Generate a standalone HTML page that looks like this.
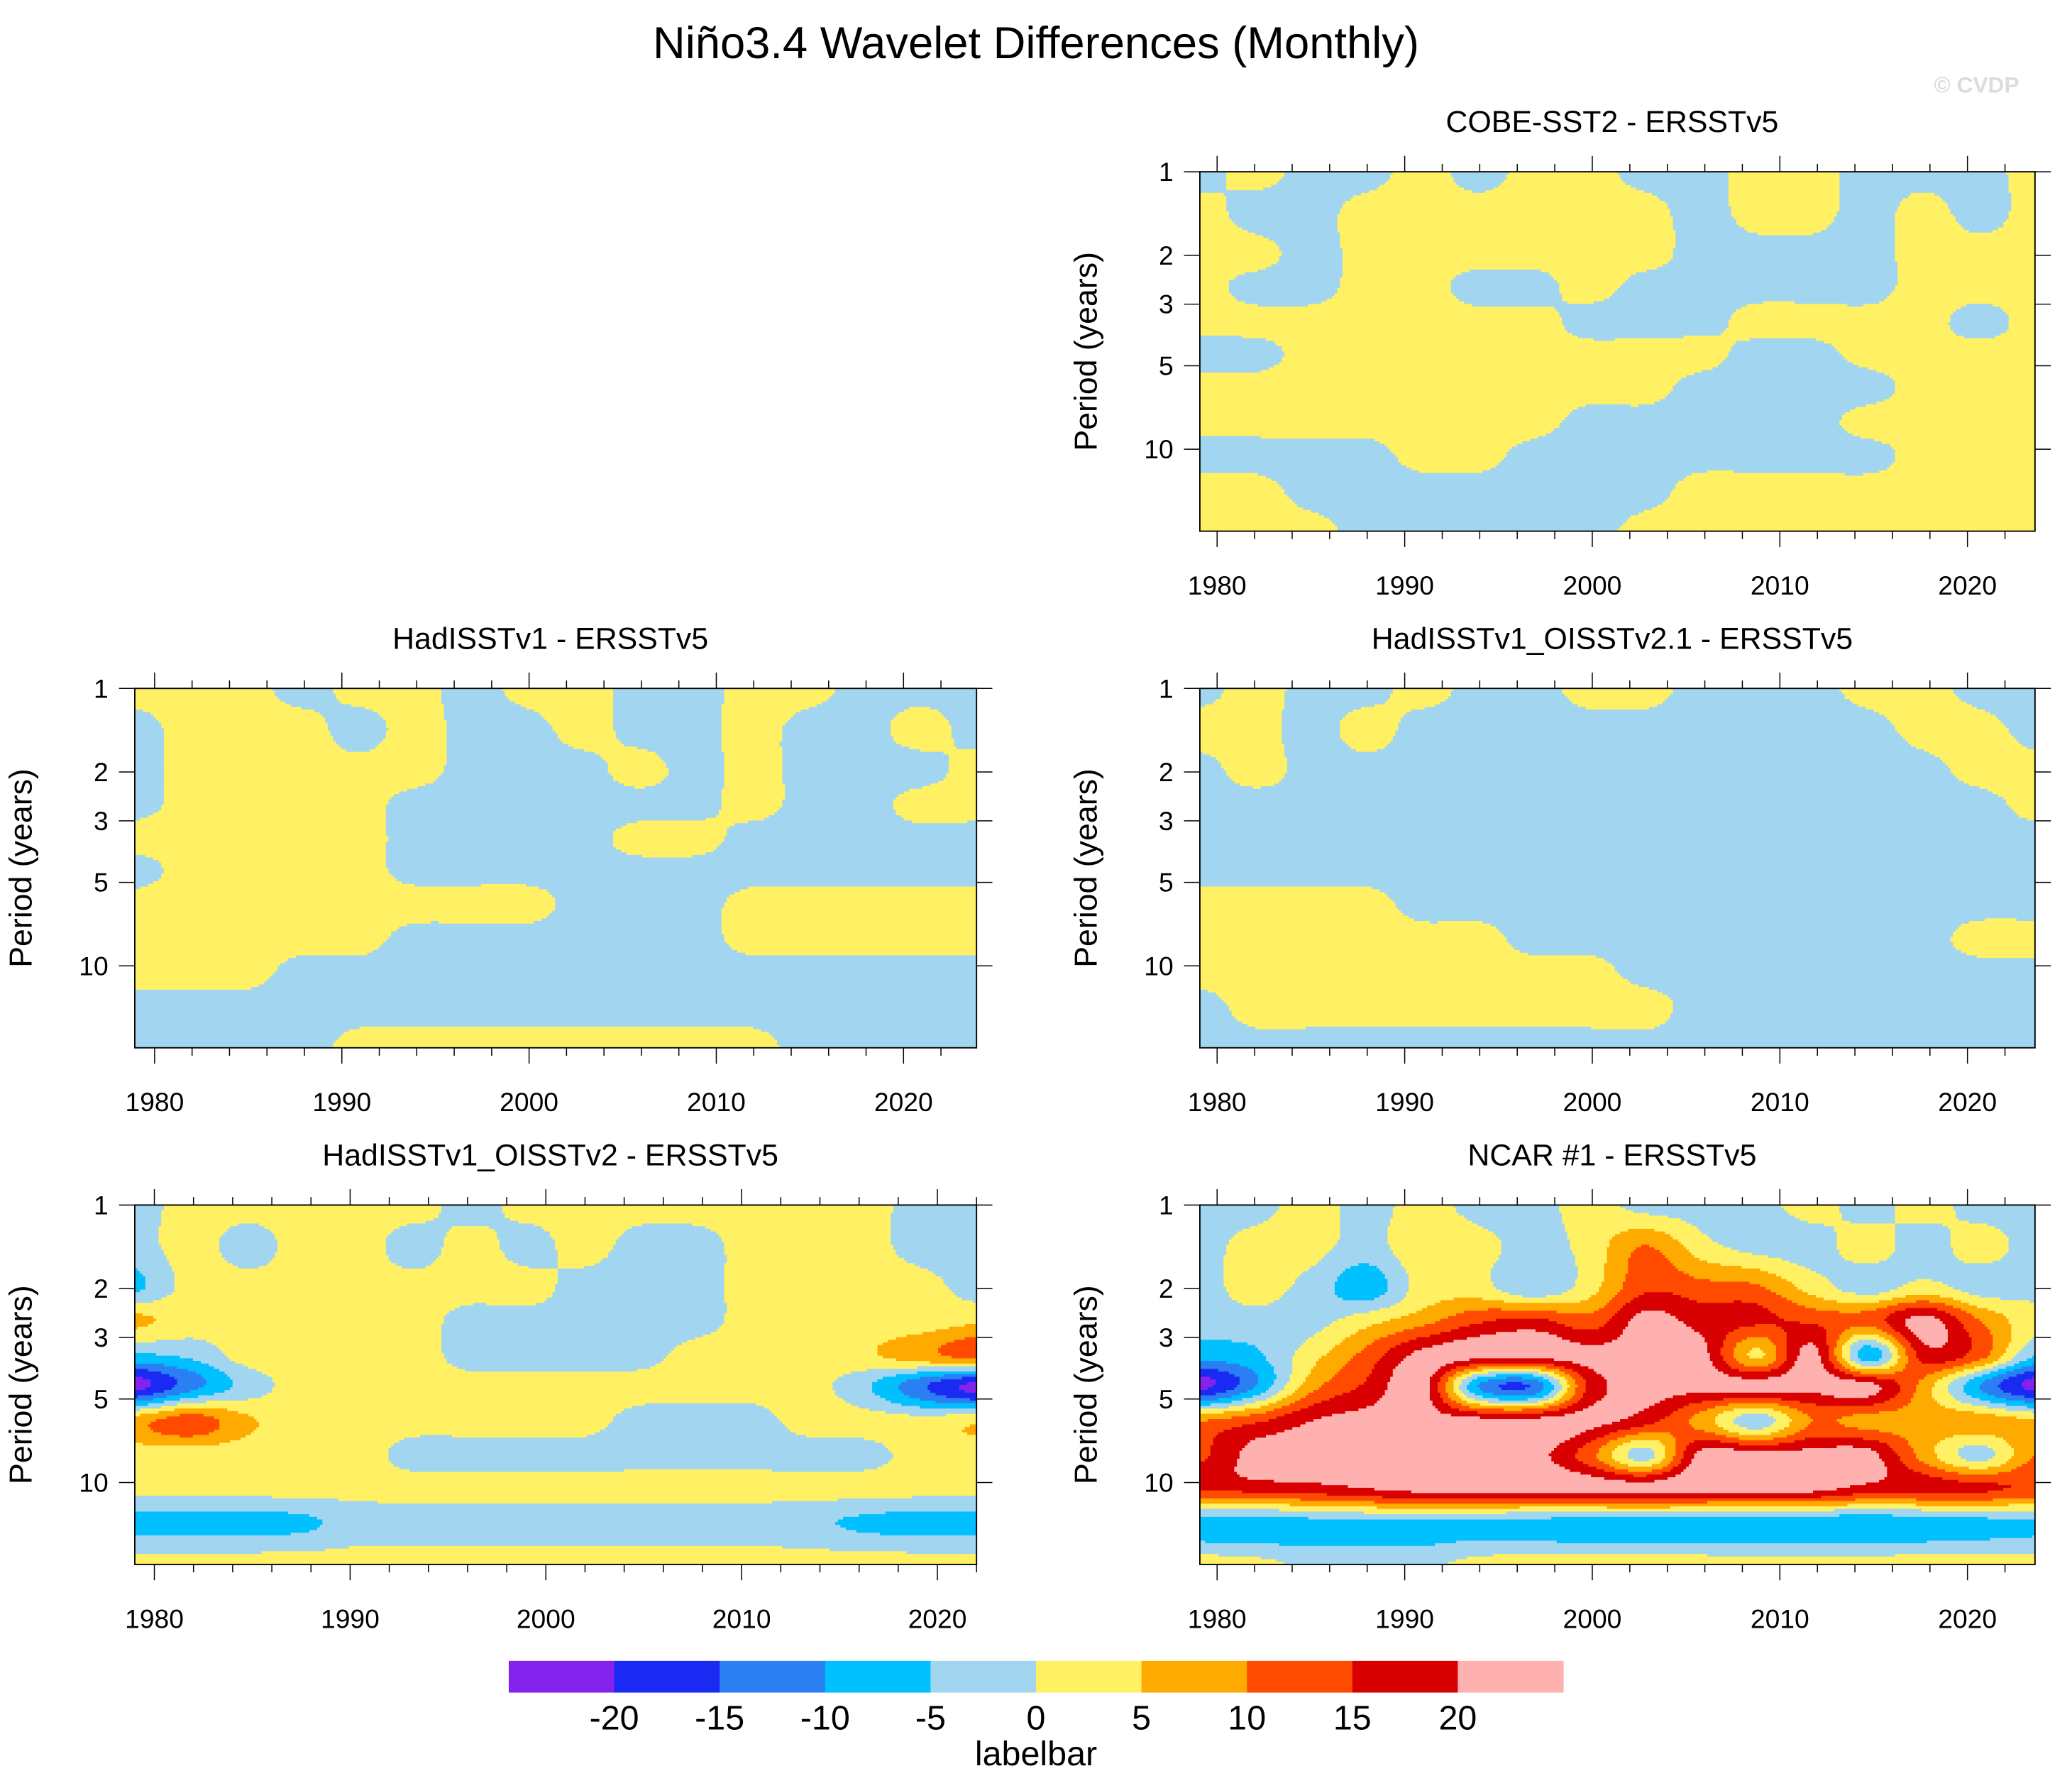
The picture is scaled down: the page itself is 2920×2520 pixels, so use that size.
<!DOCTYPE html>
<html><head><meta charset="utf-8"><title>Niño3.4 Wavelet Differences</title>
<style>html,body{margin:0;padding:0;background:#fff}svg{display:block}text{font-family:"Liberation Sans",sans-serif}</style>
</head><body>
<svg id="chart" width="2920" height="2520" viewBox="0 0 1568 1353.2" xmlns="http://www.w3.org/2000/svg">
<rect width="1568" height="1353.2" fill="#fff"/>
<text x="784" y="44" font-size="34" text-anchor="middle">Niño3.4 Wavelet Differences (Monthly)</text>
<text x="1528" y="70" font-size="17" font-weight="bold" fill="#dcdcdc" text-anchor="end">© CVDP</text>
<g id="panels"></g>
<g id="colorbar"></g>
</svg>
<script>
const levels = [-20,-15,-10,-5,0,5,10,15,20];
const colors = ["#8422ee","#1a2af2","#2a7ff2","#00c0ff","#a2d6f0","#fff064","#ffaa00","#ff4b00","#d80000","#ffb1b0"];
const periods = [1,1.4,2,2.6,3.5,4.5,6,8,10.5,14,20];
const periodTicks = [1,2,3,5,10];
const yearTicks = [1980,1990,2000,2010,2020];

const cobeVals = [
[-2,2,-2,-2,2,-2,2,2,-2,-2,2,2,-2,-2,-2,2],
[2,-2,-2,2,2,2,2,2,2,-2,2,2,-2,2,-2,2],
[2,2,-2,2,2,2,2,2,2,-2,-2,-2,-2,2,2,2],
[2,-2,-2,2,2,-2,-2,2,-2,-2,-2,-2,-2,2,2,2],
[2,2,2,2,2,2,2,-2,-2,-2,2,2,2,2,-2,2],
[-2,-2,2,2,2,2,2,2,2,2,-2,-2,2,2,2,2],
[2,2,2,2,2,2,2,2,2,-2,-2,-2,-2,2,2,2],
[2,2,2,2,2,2,2,-2,-2,-2,-2,-2,2,2,2,2],
[-2,-2,-2,-2,2,2,-2,-2,-2,-2,-2,-2,-2,2,2,2],
[2,2,-2,-2,-2,-2,-2,-2,-2,2,2,2,2,2,2,2],
[2,2,2,-2,-2,-2,-2,-2,2,2,2,2,2,2,2,2]];
const hadVals = [
[2,2,2,-2,2,2,-2,2,2,-2,-2,2,2,-2,-2,-2],
[-2,2,2,2,-2,2,-2,-2,2,-2,-2,2,-2,-2,2,-2],
[-2,2,2,2,2,2,-2,-2,-2,2,-2,2,-2,-2,-2,2],
[-2,2,2,2,2,-2,-2,-2,-2,-2,-2,2,-2,-2,2,2],
[2,2,2,2,2,-2,-2,-2,-2,2,2,-2,-2,-2,-2,-2],
[-2,2,2,2,2,-2,-2,-2,-2,-2,-2,-2,-2,-2,-2,-2],
[2,2,2,2,2,2,2,2,-2,-2,-2,2,2,2,2,2],
[2,2,2,2,2,-2,-2,-2,-2,-2,-2,2,2,2,2,2],
[2,2,2,-2,-2,-2,-2,-2,-2,-2,-2,-2,-2,-2,-2,-2],
[-2,-2,-2,-2,-2,-2,-2,-2,-2,-2,-2,-2,-2,-2,-2,-2],
[-2,-2,-2,-2,2,2,2,2,2,2,2,2,-2,-2,-2,-2]];
const oi21Vals = [
[-2,2,-2,-2,2,-2,-2,2,2,-2,-2,-2,2,2,-2,-2],
[2,2,-2,2,-2,-2,-2,-2,-2,-2,-2,-2,-2,2,2,-2],
[-2,2,-2,-2,-2,-2,-2,-2,-2,-2,-2,-2,-2,-2,2,2],
[-2,-2,-2,-2,-2,-2,-2,-2,-2,-2,-2,-2,-2,-2,-2,2],
[-2,-2,-2,-2,-2,-2,-2,-2,-2,-2,-2,-2,-2,-2,-2,-2],
[-2,-2,-2,-2,-2,-2,-2,-2,-2,-2,-2,-2,-2,-2,-2,-2],
[2,2,2,2,-2,-2,-2,-2,-2,-2,-2,-2,-2,-2,-2,-2],
[2,2,2,2,2,2,-2,-2,-2,-2,-2,-2,-2,-2,2,2],
[2,2,2,2,2,2,2,2,-2,-2,-2,-2,-2,-2,-2,-2],
[-2,2,2,2,2,2,2,2,2,-2,-2,-2,-2,-2,-2,-2],
[-2,-2,-2,-2,-2,-2,-2,-2,-2,-2,-2,-2,-2,-2,-2,-2]];
const oi2Vals = [
[-2,2,2,2,2,2,-2,2,2,2,2,2,2,2,-2,-2],
[-2,2,-2,2,2,-2,2,-2,2,-2,-2,2,2,2,-2,-2],
[-6,2,2,2,2,2,2,2,-2,-2,-2,2,2,2,2,-2],
[6,3,2,2,2,2,-2,-2,-2,-2,-2,2,2,2,2,4],
[-6,-4,2,2,2,2,-2,-2,-2,-2,2,2,2,4,8,12],
[-22,-12,-3,2,2,2,2,2,2,2,2,2,2,-4,-14,-22],
[8,13,6,2,2,2,2,2,2,-2,-2,-2,2,2,2,4],
[2,2,2,2,2,-2,-2,-2,-2,-2,-2,-2,-2,-2,2,2],
[2,2,2,2,2,2,2,2,2,2,2,2,2,2,2,2],
[-7,-7,-7,-6,-3,-3,-3,-3,-3,-3,-3,-3,-4,-6,-7,-7],
[3,3,3,3,3,3,3,3,3,3,3,3,3,3,3,3]];
const ncarVals = [
[-2,-2,2,-2,2,-2,-2,2,-2,-2,-2,2,-2,2,-2,-2],
[-2,2,2,-2,4,2,-2,2,10,2,-2,-2,2,-2,2,-2],
[-2,2,-2,-8,2,2,-4,3,14,12,11,3,-2,2,-2,-2],
[-3,-2,-2,3,8,14,16,12,22,18,16,14,12,22,10,2],
[-8,-6,3,12,22,22,22,22,22,22,4,22,-8,17,12,-5],
[-22,-10,8,16,22,-10,-14,16,22,22,22,22,22,8,-10,-22],
[10,14,20,22,22,22,22,22,17,8,-3,10,8,8,8,6],
[14,22,22,22,22,22,22,12,-2,22,22,22,22,8,-2,10],
[16,17,18,20,22,22,22,22,22,22,22,22,18,17,16,14],
[-8,-8,-7,-6,-6,-6,-7,-8,-8,-8,-9,-9,-9,-8,-7,-6],
[3,2,-1,-1,-1,2,3,3,3,3,3,3,3,3,3,3]];

const panels = [
 {name:"cobe",title:"COBE-SST2 - ERSSTv5",vals:cobeVals,x:908,y:130,w:632,y0:1979.08,y1:2023.6},
 {name:"hadisst",title:"HadISSTv1 - ERSSTv5",vals:hadVals,x:102,y:521,w:637,y0:1978.94,y1:2023.9},
 {name:"hadisst-oisstv21",title:"HadISSTv1_OISSTv2.1 - ERSSTv5",vals:oi21Vals,x:908,y:521,w:632,y0:1979.08,y1:2023.6},
 {name:"hadisst-oisstv2",title:"HadISSTv1_OISSTv2 - ERSSTv5",vals:oi2Vals,x:102,y:912,w:637,y0:1979.0,y1:2022.0},
 {name:"ncar1",title:"NCAR #1 - ERSSTv5",vals:ncarVals,x:908,y:912,w:632,y0:1979.08,y1:2023.6}
];
const H = 272, DEC = 210;
const NS = "http://www.w3.org/2000/svg";
function mk(tag, attrs, parent){const e=document.createElementNS(NS,tag);for(const k in attrs)e.setAttribute(k,attrs[k]);parent.appendChild(e);return e;}
function levelIndex(v){let i=0;while(i<levels.length&&v>=levels[i])i++;return i;}
const lp = periods.map(p=>Math.log10(p));
function cr(p0,p1,p2,p3,t){return 0.5*((2*p1)+(-p0+p2)*t+(2*p0-5*p1+4*p2-p3)*t*t+(-p0+3*p1-3*p2+p3)*t*t*t);}
function sample(vals,fc,lpv){
  const nr=vals.length,nc=vals[0].length;
  let c=Math.max(0,Math.min(nc-1-1e-9,fc*(nc-1)));const ci=Math.floor(c),cf=c-ci;
  let r=0;while(r<lp.length-2&&lpv>lp[r+1])r++;
  let rf=(lpv-lp[r])/(lp[r+1]-lp[r]);rf=Math.max(0,Math.min(1,rf));
  const cl=i=>Math.max(0,Math.min(nc-1,i)), rl=i=>Math.max(0,Math.min(nr-1,i));
  const rowv=[];
  for(let k=-1;k<=2;k++){const row=vals[rl(r+k)];rowv.push(cr(row[cl(ci-1)],row[cl(ci)],row[cl(ci+1)],row[cl(ci+2)],cf));}
  return cr(rowv[0],rowv[1],rowv[2],rowv[3],rf);
}
const root=document.getElementById('panels');
panels.forEach(P=>{
  const g=mk('g',{},root);
  
  
  const xs=yr=>P.x+(yr-P.y0)/(P.y1-P.y0)*P.w;
  const ys=p=>P.y+DEC*Math.log10(p);
  const field=mk('g',{},g);
  
  
  const step=2, ncol=Math.ceil(P.w/step);
  for(let yy=0;yy<H;yy+=step){
    const lpv=(yy+step/2)/DEC;
    const idxs=[];
    for(let k=0;k<ncol;k++){idxs.push(levelIndex(sample(P.vals,Math.min(1,(k*step+step/2)/P.w),lpv)));}
    let s=0;
    for(let k=1;k<=ncol;k++){
      if(k===ncol||idxs[k]!==idxs[s]){
        const x0=s*step, x1=Math.min(k*step,P.w);
        const r=mk('rect',{x:P.x+x0,y:P.y+yy,width:x1-x0+(k===ncol?0:0.4),height:Math.min(step+0.4,H-yy),fill:colors[idxs[s]]},field);
        
        
        s=k;
      }
    }
  }
  const fr=mk('rect',{x:P.x,y:P.y,width:P.w,height:H,fill:'none',stroke:'#000','stroke-width':1},g);
  
  
  for(let yr=1980;yr<=2024;yr+=2){
    const x=xs(yr); if(x<P.x-0.5||x>P.x+P.w+0.5)continue;
    const major=yr%10===0, L=major?12:6;
    mk('line',{x1:x,x2:x,y1:P.y,y2:P.y-L,stroke:'#000','stroke-width':0.8},g);
    mk('line',{x1:x,x2:x,y1:P.y+H,y2:P.y+H+L,stroke:'#000','stroke-width':0.8},g);
  }
  yearTicks.forEach(yr=>{
    const t=mk('text',{x:xs(yr),y:P.y+H+48,'font-size':20,'text-anchor':'middle'},g);t.textContent=yr;
    
    
  });
  periodTicks.forEach(p=>{
    const y=ys(p);
    mk('line',{x1:P.x,x2:P.x-12,y1:y,y2:y,stroke:'#000','stroke-width':0.8},g);
    mk('line',{x1:P.x+P.w,x2:P.x+P.w+12,y1:y,y2:y,stroke:'#000','stroke-width':0.8},g);
    const t=mk('text',{x:P.x-20,y:y+7,'font-size':20,'text-anchor':'end'},g);t.textContent=p;
    
    
  });
  const yt=mk('text',{x:0,y:0,'font-size':24,'text-anchor':'middle',transform:`translate(${P.x-78},${P.y+H/2}) rotate(-90)`},g);
  yt.textContent='Period (years)';
  
  
  const tt=mk('text',{x:P.x+P.w/2-4,y:P.y-30,'font-size':23,'text-anchor':'middle'},g);
  tt.textContent=P.title;
  
  
});
const cb=document.getElementById('colorbar');
const bx0=385,bx1=1183,bw=(bx1-bx0)/colors.length;
colors.forEach((c,i)=>{
  const r=mk('rect',{x:bx0+i*bw,y:1257,width:bw+0.3,height:24,fill:c},cb);
  
  
});
levels.forEach((v,i)=>{
  const t=mk('text',{x:bx0+(i+1)*bw,y:1309,'font-size':26,'text-anchor':'middle'},cb);t.textContent=v;
  
  
});
const lb=mk('text',{x:784,y:1336,'font-size':26,'text-anchor':'middle'},cb);lb.textContent='labelbar';


</script>
</body></html>
